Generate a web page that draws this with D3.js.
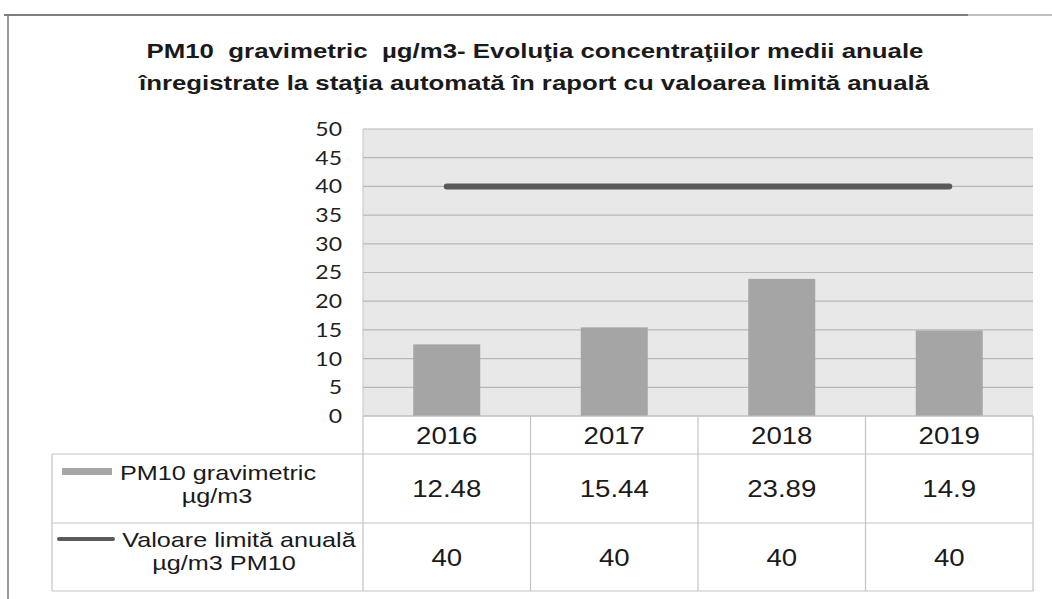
<!DOCTYPE html>
<html lang="ro">
<head>
<meta charset="UTF-8">
<title>PM10 gravimetric</title>
<style>
  body { margin: 0; background: #fff; }
  text { white-space: pre; }
</style>
</head>
<body>
<svg id="chart"></svg>
<script src="https://d3js.org/d3.v7.min.js"></script>
<script>
// data
const years = ['2016', '2017', '2018', '2019'];
const pm10 = [12.48, 15.44, 23.89, 14.9];
const limit = [40, 40, 40, 40];
const yTicks = [0, 5, 10, 15, 20, 25, 30, 35, 40, 45, 50];
const titleLines = [
  'PM10  gravimetric  µg/m3- Evoluţia concentraţiilor medii anuale',
  'înregistrate la staţia automată în raport cu valoarea limită anuală'
];
const pm10Label = ['PM10 gravimetric', 'µg/m3'];
const limitLabel = ['Valoare limită anuală', 'µg/m3 PM10'];

const width = 1052, height = 599;
const plot = { left: 363, right: 1033, top: 129, bottom: 416 };
const rows = [416, 454, 523, 591];   // table row edges
const tableLeft = 52;
const k = 1.15;                       // the scan is a little wide

const svg = d3.select('#chart').attr('width', width).attr('height', height);

// widen text a bit, like the scan
function stretch(sel, f) {
  sel.each(function () {
    const w = this.getComputedTextLength();
    d3.select(this).attr('textLength', w * f).attr('lengthAdjust', 'spacingAndGlyphs');
  });
}

// frame of the scanned page
svg.append('line').attr('x1', 4).attr('x2', 968).attr('y1', 15).attr('y2', 15)
  .attr('stroke', '#555').attr('stroke-width', 1.5);
svg.append('line').attr('x1', 968).attr('x2', 1052).attr('y1', 15).attr('y2', 15)
  .attr('stroke', '#aaa').attr('stroke-width', 1.5);
svg.append('line').attr('x1', 8).attr('x2', 8).attr('y1', 15).attr('y2', 599)
  .attr('stroke', '#777').attr('stroke-width', 1.5);

// title
const title = svg.append('g')
  .attr('font-family', '"Liberation Sans", Arial, sans-serif')
  .attr('font-weight', 'bold').attr('font-size', 21).attr('fill', '#1a1a1a')
  .attr('text-anchor', 'middle');
title.append('text').attr('x', 535).attr('y', 58).text(titleLines[0])
  .attr('textLength', 777).attr('lengthAdjust', 'spacingAndGlyphs');
title.append('text').attr('x', 534).attr('y', 90).text(titleLines[1])
  .attr('textLength', 790).attr('lengthAdjust', 'spacingAndGlyphs');

const x = d3.scaleBand().domain(years).range([plot.left, plot.right]).padding(0);
const y = d3.scaleLinear().domain([0, 50]).range([plot.bottom, plot.top]);

// plot area
svg.append('rect')
  .attr('x', plot.left).attr('y', plot.top)
  .attr('width', plot.right - plot.left).attr('height', plot.bottom - plot.top)
  .attr('fill', '#e8e8e8');

svg.append('g').selectAll('line')
  .data(yTicks)
  .join('line')
  .attr('x1', plot.left).attr('x2', plot.right)
  .attr('y1', d => y(d)).attr('y2', d => y(d))
  .attr('stroke', '#b7b7b7').attr('stroke-width', 1.2);

svg.append('line')
  .attr('x1', plot.left).attr('x2', plot.left).attr('y1', plot.top).attr('y2', plot.bottom)
  .attr('stroke', '#c4c4c4');

// y axis labels
const yAxis = svg.append('g')
  .attr('transform', `translate(${plot.left},0)`)
  .call(d3.axisLeft(y).tickValues(yTicks).tickSize(0).tickPadding(21));
yAxis.select('.domain').remove();
yAxis.selectAll('text')
  .attr('font-family', 'Lato, "Open Sans", sans-serif')
  .attr('font-size', 20).attr('fill', '#222')
  .call(stretch, k);

// bars
const barW = x.bandwidth() * 0.4;
svg.append('g').selectAll('rect')
  .data(pm10)
  .join('rect')
  .attr('x', (d, i) => x(years[i]) + (x.bandwidth() - barW) / 2)
  .attr('y', d => y(d))
  .attr('width', barW)
  .attr('height', d => y(0) - y(d))
  .attr('fill', '#a5a5a5');

// limit line
const line = d3.line()
  .x((d, i) => x(years[i]) + x.bandwidth() / 2)
  .y(d => y(d));
svg.append('path')
  .datum(limit)
  .attr('d', line)
  .attr('fill', 'none')
  .attr('stroke', '#5a5a5a')
  .attr('stroke-width', 6)
  .attr('stroke-linecap', 'round');

// data table
const grid = '#c3c3c3';
const table = svg.append('g').attr('stroke', grid).attr('stroke-width', 1.2);
table.append('line').attr('x1', plot.left).attr('x2', plot.right)
  .attr('y1', rows[0]).attr('y2', rows[0]);
rows.slice(1).forEach(r => {
  table.append('line').attr('x1', tableLeft).attr('x2', plot.right).attr('y1', r).attr('y2', r);
});
table.append('line').attr('x1', tableLeft).attr('x2', tableLeft)
  .attr('y1', rows[1]).attr('y2', rows[3]);
years.forEach(yr => {
  table.append('line').attr('x1', x(yr)).attr('x2', x(yr))
    .attr('y1', rows[0]).attr('y2', rows[3]);
});
table.append('line').attr('x1', plot.right).attr('x2', plot.right)
  .attr('y1', rows[0]).attr('y2', rows[3]);

const cellFont = '"Liberation Sans", Arial, sans-serif';
const cellSize = 24;
function rowBase(i) { return (rows[i] + rows[i + 1]) / 2 + cellSize * 0.36; }

const cells = svg.append('g')
  .attr('font-family', cellFont).attr('font-size', cellSize)
  .attr('fill', '#1a1a1a').attr('text-anchor', 'middle');

[years, pm10, limit].forEach((vals, r) => {
  cells.append('g').selectAll('text')
    .data(vals)
    .join('text')
    .attr('x', (d, i) => x(years[i]) + x.bandwidth() / 2)
    .attr('y', rowBase(r))
    .text(d => String(d))
    .call(stretch, k);
});

// legend keys in the table
const legend = svg.append('g')
  .attr('font-family', cellFont).attr('font-size', 21)
  .attr('fill', '#1a1a1a').attr('text-anchor', 'middle');

svg.append('rect').attr('x', 62).attr('y', 468).attr('width', 50).attr('height', 7)
  .attr('fill', '#a5a5a5');
legend.append('text').attr('x', 218).attr('y', 480).text(pm10Label[0]).call(stretch, 1.2);
legend.append('text').attr('x', 217).attr('y', 503).text(pm10Label[1]).call(stretch, 1.2);

svg.append('line').attr('x1', 59).attr('x2', 113).attr('y1', 539).attr('y2', 539)
  .attr('stroke', '#5a5a5a').attr('stroke-width', 4).attr('stroke-linecap', 'round');
legend.append('text').attr('x', 239).attr('y', 547).text(limitLabel[0]).call(stretch, 1.2);
legend.append('text').attr('x', 224).attr('y', 570).text(limitLabel[1]).call(stretch, 1.2);
</script>
</body>
</html>
